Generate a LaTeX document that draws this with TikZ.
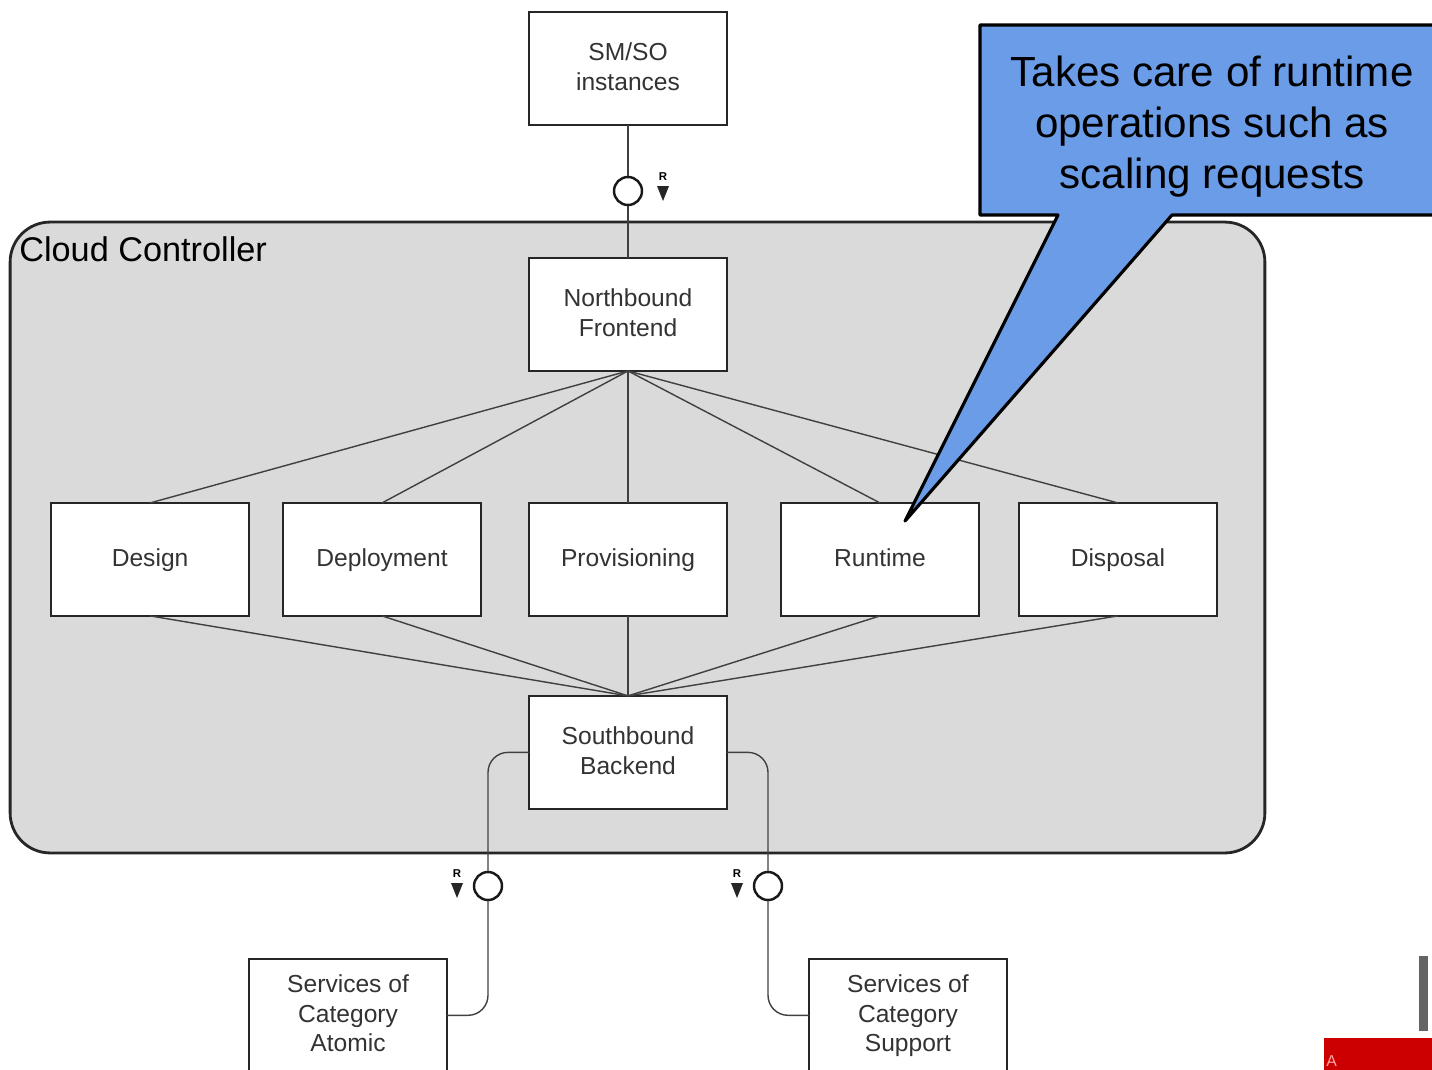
\documentclass[tikz,border=0pt]{standalone}
\usepackage{fontspec}
\setmainfont{Liberation Sans}
\usetikzlibrary{positioning}
\definecolor{ctrlgray}{RGB}{218,218,218}
\definecolor{calloutblue}{RGB}{106,156,232}
\definecolor{markred}{RGB}{204,0,0}
\definecolor{bargray}{RGB}{100,100,100}

\begin{document}
\begin{tikzpicture}[
      x=0.02cm, y=-0.02cm,
      container/.style={rectangle, draw=black!85, line width=1.6pt, fill=ctrlgray, rounded corners=0.8cm, minimum width=25.1cm, minimum height=12.62cm},
      comp/.style={rectangle, draw=black!85, line width=1.3pt, fill=white, text=black!80, align=center, minimum width=3.96cm, minimum height=2.26cm, inner sep=2pt, outer sep=0pt, text depth=0.25em, font=\fontsize{14}{17}\selectfont},
      stage/.style={comp, text height=1em, text depth=0.24em},
      iface/.style={circle, draw=black!90, line width=1.4pt, fill=white, minimum size=0.56cm, inner sep=0pt},
      link/.style={draw=black!75, line width=0.8pt},
      reqmark/.style={font=\fontsize{6.5}{6.5}\selectfont\bfseries, inner sep=0pt}
    ]
      \useasboundingbox (0,0) rectangle (1432,1069);

      \node[container] (cloud) at (637.5,537.5) {};
      \node[anchor=base west, font=\fontsize{19.5}{19.5}\selectfont, inner sep=0pt] (title) at (19,261) {Cloud Controller};

      \node[comp] (smso) at (628,68.5) {SM/SO\\instances};
      \node[comp, below=2.66cm of smso] (front) {Northbound\\Frontend};

      \node[stage, below=2.64cm of front] (prov) {Provisioning};
      \node[stage, left=0.96cm of prov] (deploy) {Deployment};
      \node[stage, left=0.68cm of deploy] (design) {Design};
      \node[stage, right=1.08cm of prov] (runtime) {Runtime};
      \node[stage, right=0.8cm of runtime] (disposal) {Disposal};

      \node[comp, below=1.6cm of prov] (south) {Southbound\\Backend};
      \node[comp, below=3cm of south, xshift=-5.6cm] (atomic) {Services of\\Category\\Atomic};
      \node[comp, below=3cm of south, xshift=5.6cm] (support) {Services of\\Category\\Support};

      \node[iface] (topif) at (628,191) {};
      \node[iface] (leftif) at (488,886) {};
      \node[iface] (rightif) at (768,886) {};

      \foreach \mx/\my/\mn in {663/177/rtop, 457/874/rleft, 737/874/rright} {
        \node[reqmark] (\mn) at (\mx,\my) {R};
        \fill[black!85] (\mx-6,\my+9) -- (\mx+6,\my+9) -- (\mx,\my+24) -- cycle;
      }

      \draw[link] (smso.south) -- (topif.north);
      \draw[link] (topif.south) -- (front.north);

      \foreach \n in {design, deploy, prov, runtime, disposal} {
        \draw[link] (front.south) -- (\n.north);
        \draw[link] (\n.south) -- (south.north);
      }

      \draw[link, rounded corners=0.4cm] (south.west) -| (leftif.north);
      \draw[link, rounded corners=0.4cm] (leftif.south) |- (atomic.east);
      \draw[link, rounded corners=0.4cm] (south.east) -| (rightif.north);
      \draw[link, rounded corners=0.4cm] (rightif.south) |- (support.west);

      \filldraw[draw=black, line width=1.8pt, fill=calloutblue, line join=round] (980,25) -- (1445,25) -- (1445,215) -- (1172,215) -- (905,521) -- (1058,215) -- (980,215) -- cycle;
      \node[font=\fontsize{24}{29}\selectfont, align=center] (callout) at (1212,127) {Takes care of runtime\\operations such as\\scaling requests};

      \fill[bargray] (1419,956) rectangle (1428,1031);
      \fill[markred] (1324,1038) rectangle (1440,1075);
      \node[anchor=north west, inner sep=0pt, text=red!35, font=\fontsize{9}{9}\selectfont] (logo) at (1326,1055) {A};
    \end{tikzpicture}
\end{document}
